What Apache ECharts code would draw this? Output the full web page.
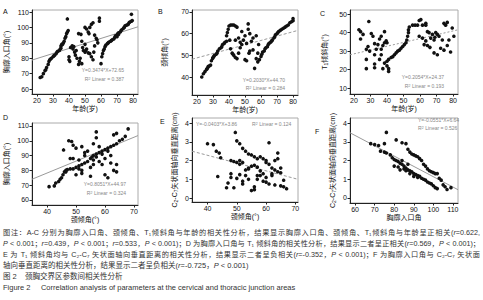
<!DOCTYPE html>
<html><head><meta charset="utf-8">
<script src="https://cdn.jsdelivr.net/npm/echarts@6/dist/echarts.min.js"></script>
<style>
html,body{margin:0;padding:0;background:#fff;}
#chart{position:absolute;left:0;top:0;width:483px;height:228px;}
.cap{position:absolute;left:3px;font-family:"Liberation Sans","Noto Sans CJK SC",sans-serif;font-size:7.5px;color:#333;white-space:nowrap;line-height:9px;}
.j{width:477px;text-align:justify;text-align-last:justify;font-size:7.2px;}
i{font-style:italic;}
</style></head>
<body>
<div id="chart"></div>
<div class="cap j" style="top:228px">图注：A-C 分别为胸廓入口角、颈倾角、T₁倾斜角与年龄的相关性分析，结果显示胸廓入口角、颈倾角、T₁倾斜角与年龄呈正相关(<i>r</i>=0.622,</div>
<div class="cap j" style="top:239px"><i>P</i> &lt; 0.001；<i>r</i>=0.439，<i>P</i> &lt; 0.001；<i>r</i>=0.533，<i>P</i> &lt; 0.001)；D 为胸廓入口角与 T₁ 倾斜角的相关性分析，结果显示二者呈正相关(<i>r</i>=0.569，<i>P</i> &lt; 0.001)；</div>
<div class="cap j" style="top:250px">E 为 T₁ 倾斜角均与 C₂-C₇ 矢状面轴向垂直距离的相关性分析，结果显示二者呈负相关(<i>r</i>=-0.352，<i>P</i> &lt; 0.001)；F 为胸廓入口角与 C₂-C₇ 矢状面</div>
<div class="cap" style="top:261px">轴向垂直距离的相关性分析，结果显示二者呈负相关(<i>r</i>=-0.725，<i>P</i> &lt; 0.001)</div>
<div class="cap" style="top:272px">图 2&nbsp;&nbsp;&nbsp;&nbsp;颈胸交界区参数间相关性分析</div>
<div class="cap" style="top:283px">Figure 2&nbsp;&nbsp;&nbsp;&nbsp;&nbsp;Correlation analysis of parameters at the cervical and thoracic junction areas</div>
<script>
// ---- data ----
const pointsA = [[22,67.5],[23,68],[24,70],[25,72],[25.5,72.5],[26,74],[27,76],[27.5,78],[28,79],[28.5,79.5],[29,80],[30,81],[30.5,81.5],[31,82],[32,83],[32.5,84],[33,84.5],[34,85],[34.5,86],[35,86.5],[35,88],[35.5,89],[36,89],[36.5,90],[37,91],[37.5,93],[38,94],[38.5,96],[39,97],[39.5,98],[39,105.5],
[40,79],[40.5,78],[40,81],[41,87],[42,88],[42.5,86],[43,87.5],[43.5,84],[44,82],[44.5,85],[45,80],[46,76],[46.5,78],[47,80],[46,96],[47.5,95.5],[48,91],[48.5,87],[49,85],[50,84],[50.5,85],[51,86],[50,100],[51,99],[52,97],[53,100],[52.5,96],[54,102],[55,103],[53,83],[54,81],[55,79],[55.5,84],[56,88],[57,93],[57.5,92],[58,90],[59,106],[59,104],[56,95],[50,89],[52,83.5],[48,76.5],
[60,76.5],[60.5,81],[61,83],[61.5,85],[62,86],[62.5,87.5],[63,88.5],[64,89.5],[64.5,90],[65,90.5],[66,91],[66.5,91.5],[67,92],[68,92.5],[68.5,93.5],[69,94.5],[70,95],[70.5,96],[71,96.5],[72,97],[72.5,98],[73,98.5],[74,99.5],[74.5,100],[75,101],[76,101.5],[77,102],[77.5,103],[78,103.5],[79,104],[79.5,104.5],[79,108.5],[70,94],[71,95.5]];
const pointsB = [[23,40],[24,41.5],[25,42.5],[26,43.5],[26.5,44],[27,44.8],[27.5,45],[28.5,45.5],[29,47.5],[29.8,48.6],[30,49],[30.5,49.5],[31,50],[32,50.5],[32.5,51],[33,52],[34,53],[35,53.5],[35.5,54],[36,55],[37,55.5],[37.5,56],[38.5,56.5],[38.5,59],[39,60.5],[39.5,62],[40,63.5],[41,64],[42,64],[43,64],[44,63.5],[45,63],
[40.5,57],[41,53],[42,51],[42.5,50.5],[43,50],[44,49],[45,48.5],[46,58],[47,56],[48,55],[48,61],[49,57],[50,59],[50,48],[51,47.5],[52,64.5],[52,62],[53,60],[52.5,51],[53,52],[54,56.5],[55,58],[56,44],[57,48.5],[57,59],[58,51],[58.5,55],[46,51],[47,53.5],[44,57],[55,52.5],[51,55.5],
[58,47],[59,48],[60,49.5],[60.5,50.5],[61,51.5],[62,52],[62.5,53],[63,53.5],[64,54],[64.5,55],[65,55.5],[66,56],[66.5,56.5],[67,57],[68,58],[68.5,58.5],[69,59.5],[70,60],[70.5,60.5],[71,61],[72,61.5],[73,62],[74,62.5],[75,63],[76,63.5],[77,64],[78,65],[79,65.5],[80,66],[80,67]];
const pointsC = [[23,41.5],[24,40.5],[24,36.5],[25.5,39],[29,46],[27.5,31],[28.5,32.5],[27.5,25.5],[27.5,20.5],[29.5,30],[30.5,39.5],[31.5,38],[32.5,34],[32.5,28],[32.5,23],[32.5,21],[33.5,31],[34.5,33.5],[35.5,36.5],[35.5,25.5],[36.5,38],[36.5,28],[37.5,33],[37.5,20.5],[38.5,40.5],[38.5,34.5],[36.5,31],[39.5,35.5],[40,34.5],[41,20.5],[41,19],[40,22],
[38.5,23.5],[40,24.5],[41,25.5],[42.5,26.5],[43.5,27],[44.5,28],[45.5,29],[46.5,30],[47.5,30.5],[48.5,31.5],[49.5,32.5],[50.5,33.5],[51.5,34.5],[52,36],[52.5,38],[53,40],[53,41.5],[53.5,43],[55.5,44],[57,44],[58.5,44],[59.5,46.5],[60.5,47],[61.5,44],[63.5,44],[63.5,45],[64.5,40.5],
[59.5,38],[61.5,37],[62.5,33.5],[63.5,35.5],[64.5,33],[65.5,40],[66.5,37],[67.5,39],[68.5,36],[68.5,29],[69.5,40],[70.5,39],[70.5,28],[71.5,38],[72.5,31.5],[73.5,36],[74.5,45],[75.5,44],[76.5,45.5],[76.5,33],[77.5,36],[78.5,29.5],[79.5,42.5],[80.5,38],[74.5,30.5],[66,32],[69,37.5]];
const pointsD = [[40.7,69],[42.5,69.5],[43,71.5],[44,72.5],[44.5,74],[45,75],[45.5,77],[46,79],[46.5,80],[47,80.5],[48,81],[49,81],[50,82],[51,83],[52,84],[53,85],[54,86],[55,88],[55.5,89],[56,90],[57,91],[58,92],[59,93],[60,94],[61,95],[62,96],[63,97],[64,98],[65,100],[66,101],[67,103],[68,108],
[45.7,93.8],[47.5,100],[48.5,99.5],[49,97],[50,95],[52,96],[51,87],[53,90],[49,88],[50,77],[52,78],[55,76],[56,98],[57,102],[57,106],[58,86],[59,84],[60,77],[61,75],[62,85],[63,80],[64,84],[64,79],[56,84],[55,82],[54,93],[53,92],[60,88],[62,90],[63,104],[64,105],[58,96],[52,80],[48,88],[46.5,79],[51,81],[56,87],[59,91],[61,93],[57,89]];
const pointsE = [[40,2.9],[42,2.85],[43,2.5],[44,2.4],[43.5,1.15],[44.5,2.15],[46.5,0.55],[47,0.8],[48,2.0],[49,1.95],[48,1.3],[48,1.1],[49.5,3.5],[50,3.05],[51,2.9],[52,2.65],[53,2.5],[54,2.35],[55,2.3],[50,1.9],[51,1.8],[51,1.25],[52,0.9],[52,0.75],[50,1.05],[53,1.5],[54,1.6],[55,1.7],[56,1.75],[57,1.65],[55,0.4],[56,0.45],[56,0.6],[57,1.0],[58,1.2],[58,2.2],[59,2.1],[60,2.0],[60,1.9],[61,1.8],[62,1.6],[63,1.5],[64,1.4],[65,1.35],[61,2.95],[63,2.0],[64,2.1],[64,2.4],[65,1.6],[59,0.9],[60,0.85],[61,0.75],[62,1.3],[63,0.7],[65,0.65],[66,0.6],[67,0.5],[58,1.45],[57,1.2],[53,1.2],[54,1.0],[49,0.55],[56,2.2],[57,2.1],[54,1.55],[52,1.9],[51,2.0],[59,1.3],[60,1.1],[62,1.2],[66,0.95]];
const pointsF = [[68,2.9],[70,2.85],[72,2.8],[73,2.5],[75,2.45],[76,2.4],[78,2.3],[79,2.15],[80,2.05],[81,2.0],[82,1.95],[83,1.85],[84,1.8],[85,1.7],[86,1.6],[87,1.5],[88,1.45],[89,1.4],[90,1.3],[91,1.25],[92,1.2],[93,1.15],[94,1.05],[95,1.0],[96,0.95],[97,0.85],[98,0.8],[99,0.75],[100,0.65],[101,0.55],[102,0.5],
[76,3.5],[75,2.9],[81,3.1],[84,2.95],[86,2.9],[87,2.6],[88,2.45],[89,2.35],[90,2.3],[91,2.25],[92,2.2],[93,2.1],[94,2.0],[95,1.8],[96,1.7],[97,1.55],[98,1.45],[99,1.4],[100,1.35],[101,1.3],[102,1.3],[103,1.05],[104,0.95],[105,0.7],[106,0.6],[107,0.45],[109,0.55],
[80,1.7],[82,1.65],[83,1.5],[85,1.55],[86,1.45],[88,1.3],[90,1.15],[92,1.1],[84,2.0],[87,1.8]];
const fitA = [[16.9,78.8],[83.1,100.4]];
const fitB = [[16.9,48.2],[83.1,61.5]];
const fitC = [[17.6,28.0],[83.0,41.5]];
const fitD = [[34.8,74.0],[71.4,103.5]];
const fitE = [[34.7,2.50],[70.9,1.00]];
const fitF = [[57.4,3.48],[112.6,0.44]];
const ticksA = {x:[20,30,40,50,60,70,80], y:[60,70,80,90,100,110]};
const ticksB = {x:[20,30,40,50,60,70,80], y:[40,50,60,70]};
const ticksC = {x:[20,30,40,50,60,70,80], y:[10,20,30,40,50]};
const ticksD = {x:[40,50,60,70], y:[60,70,80,90,100,110]};
const ticksE = {x:[40,50,60,70], y:[0,1,2,3,4]};
const ticksF = {x:[60,70,80,90,100,110], y:[0,1,2,3,4]};
const eqs = ["Y=0.3474*X+72.65","Y=0.2030*X+44.70","Y=0.2054*X+24.37","Y=0.8051*X+44.97","Y=-0.0403*X+3.86","Y=-0.0551*X+6.64"];
const r2s = ["0.387","0.284","0.193","0.324","0.124","0.526"];

// ---- layout ----
const FONT = '"Liberation Sans","Noto Sans CJK SC",sans-serif';
const panels = [
 {pts:pointsA, fit:fitA, t:ticksA, grid:{left:32,top:10,width:106,height:84}, xr:[16.9,83.1], yr:[56.8,111.3], xname:'年龄(岁)', yname:'胸廓入口角(°)', dash:'solid', letter:'A', lp:[3,8]},
 {pts:pointsB, fit:fitB, t:ticksB, grid:{left:192,top:10,width:106,height:85}, xr:[16.9,83.1], yr:[31.7,70.9], xname:'年龄(岁)', yname:'颈倾角(°)', dash:[3,2], letter:'B', lp:[158,8]},
 {pts:pointsC, fit:fitC, t:ticksC, grid:{left:350,top:10,width:108,height:84}, xr:[17.6,83.0], yr:[6.8,52.2], xname:'年龄(岁)', yname:'{a|T}{s|1}{a|倾斜角(°)}', dash:[2,2], letter:'C', lp:[320,10]},
 {pts:pointsD, fit:fitD, t:ticksD, grid:{left:32,top:123,width:106,height:82}, xr:[34.8,71.4], yr:[56.6,112], xname:'颈倾角(°)', yname:'胸廓入口角(°)', dash:'solid', letter:'D', lp:[3,114]},
 {pts:pointsE, fit:fitE, t:ticksE, grid:{left:192,top:118,width:106,height:84}, xr:[34.7,70.9], yr:[-0.21,4.27], xname:'颈倾角(°)', yname:'{a|C}{s|2}{a|-C}{s|7}{a|矢状面轴向垂直距离(cm)}', dash:[3,2], letter:'E', lp:[160,118]},
 {pts:pointsF, fit:fitF, t:ticksF, grid:{left:350,top:118,width:108,height:85}, xr:[57.4,112.6], yr:[-0.27,4.27], xname:'胸廓入口角', yname:'{a|C}{s|2}{a|-C}{s|7}{a|矢状面轴向垂直距离(cm)}', dash:'solid', letter:'F', lp:[315,128]}
];
const eqPos = [[124,70,'right'],[285,80,'right'],[444,77,'right'],[126,184,'right'],[196,124,'left'],[418,120,'left']];
const r2Pos = [[124,79,'right'],[285,88,'right'],[444,86,'right'],[126,193,'right'],[252,124,'left'],[418,128,'left']];

const grids=[], xAxes=[], yAxes=[], series=[], graphics=[];
panels.forEach((p,i)=>{
  grids.push(Object.assign({show:true, borderColor:'#aaa', borderWidth:1, backgroundColor:'#fff'}, p.grid));
  xAxes.push({type:'value', gridIndex:i, min:p.xr[0], max:p.xr[1],
    name:p.xname, nameLocation:'middle', nameGap:11,
    nameTextStyle:{fontFamily:FONT,fontSize:7,color:'#111'},
    axisLine:{show:true,onZero:false,lineStyle:{color:'#222',width:1}},
    axisTick:{show:true,length:2.5,customValues:p.t.x,lineStyle:{color:'#222'}},
    axisLabel:{customValues:p.t.x,fontFamily:FONT,fontSize:7,color:'#111',margin:3},
    splitLine:{show:false}});
  yAxes.push({type:'value', gridIndex:i, min:p.yr[0], max:p.yr[1],
    name:p.yname, nameLocation:'middle', nameGap:(i===4||i===5)?14:20,
    nameTextStyle:{fontFamily:FONT,fontSize:7,color:'#111',
      rich:{a:{fontFamily:FONT,fontSize:7,color:'#111'},s:{fontFamily:FONT,fontSize:5,color:'#111',verticalAlign:'bottom',padding:[3,0,0,0]}}},
    axisLine:{show:true,onZero:false,lineStyle:{color:'#222',width:1}},
    axisTick:{show:true,length:2.5,customValues:p.t.y,lineStyle:{color:'#222'}},
    axisLabel:{customValues:p.t.y,fontFamily:FONT,fontSize:7,color:'#111',margin:3},
    splitLine:{show:false}});
  series.push({type:'line', xAxisIndex:i, yAxisIndex:i, data:p.fit, symbol:'none', silent:true,
    lineStyle:{color:'#9a9a9a',width:1,type:p.dash}, z:1});
  series.push({type:'scatter', xAxisIndex:i, yAxisIndex:i, data:p.pts, symbol:'circle', symbolSize:3.6,
    itemStyle:{color:'#111',opacity:1}, z:3});
  graphics.push({type:'text', left:p.lp[0], top:p.lp[1], style:{text:p.letter, font:'7px '+FONT, fill:'#111'}});
  const e=eqPos[i], r=r2Pos[i];
  graphics.push({type:'text', x:e[0], y:e[1], style:{text:eqs[i], font:'5px '+FONT, fill:'#888', align:e[2], verticalAlign:'middle'}});
  graphics.push({type:'text', x:r[0], y:r[1], style:{text:'{a|R}{s|2}{a| Linear = '+r2s[i]+'}', align:r[2], verticalAlign:'middle',
     rich:{a:{font:'5px '+FONT, fill:'#888'}, s:{font:'4px '+FONT, fill:'#888', verticalAlign:'top'}}}});
});
yAxes[0].nameGap=22; yAxes[1].nameGap=24; yAxes[2].nameGap=22; yAxes[3].nameGap=22;
const chart = echarts.init(document.getElementById('chart'), null, {renderer:'svg'});
chart.setOption({animation:false, grid:grids, xAxis:xAxes, yAxis:yAxes, series:series, graphic:graphics});
</script>
</body></html>
